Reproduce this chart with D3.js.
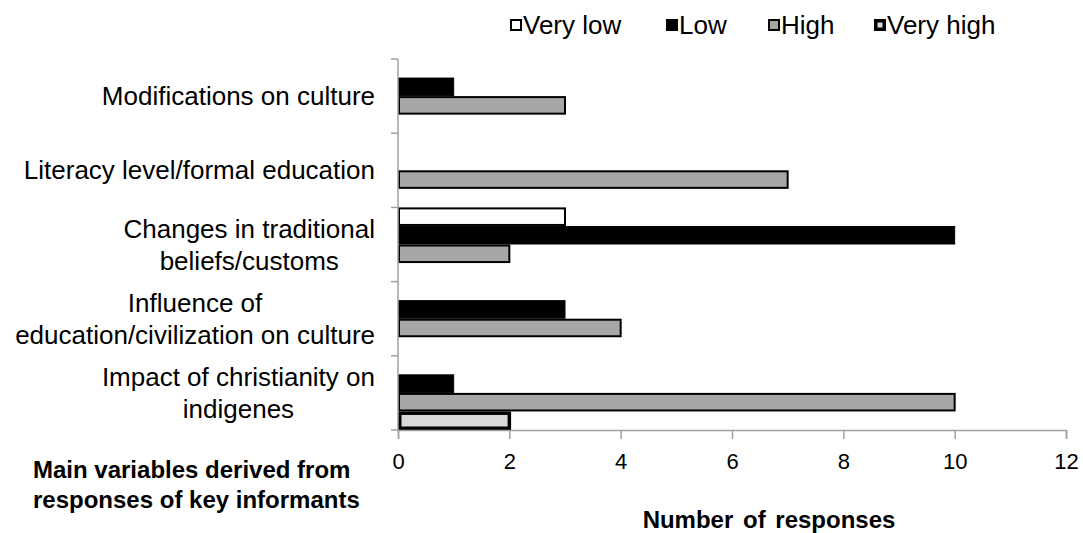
<!DOCTYPE html>
<html>
<head>
<meta charset="utf-8">
<script src="https://cdn.jsdelivr.net/npm/d3@7"></script>
<style>
  html, body { margin: 0; padding: 0; background: #fff; }
  svg { display: block; }
</style>
</head>
<body>
<svg id="chart" width="1083" height="533"></svg>
<script>
// Categories, top to bottom
const categories = [
  ["Modifications on culture"],
  ["Literacy level/formal education"],
  ["Changes in traditional", "beliefs/customs"],
  ["Influence of", "education/civilization on culture"],
  ["Impact of christianity on", "indigenes"]
];
const seriesNames = ["Very low", "Low", "High", "Very high"];

// Number of responses per category, one array per rating
const veryLow  = [0, 0, 3, 0, 0];
const low      = [1, 0, 10, 3, 1];
const high     = [3, 7, 2, 4, 10];
const veryHigh = [0, 0, 0, 0, 2];

const xTicks = [0, 2, 4, 6, 8, 10, 12];

const seriesValues = [veryLow, low, high, veryHigh];
const styles = [
  { fill: "#ffffff", stroke: "#000", sw: 2 },
  { fill: "#000000", stroke: "#000", sw: 1 },
  { fill: "#a6a6a6", stroke: "#000", sw: 2 },
  { fill: "#d9d9d9", stroke: "#000", sw: 3.5 }
];

const svg = d3.select("#chart");
const margin = { left: 398, right: 17, top: 59, bottom: 103 };
const W = 1083, H = 533;
const font = "'Liberation Sans', Arial, sans-serif";

const x = d3.scaleLinear().domain([0, 12]).range([margin.left, W - margin.right]);
const catIdx = categories.map((d, i) => i);
const y = d3.scaleBand().domain(catIdx).range([margin.top, H - margin.bottom]).padding(0);
const ySub = d3.scaleBand().domain(seriesNames).range([0, y.bandwidth()]).padding(0);

// Bars
const g = svg.append("g");
seriesNames.forEach((name, s) => {
  const st = styles[s];
  g.selectAll(null)
    .data(catIdx.filter(i => seriesValues[s][i] > 0))
    .enter().append("rect")
    .attr("x", x(0) + st.sw / 2)
    .attr("y", i => y(i) + ySub(name) + st.sw / 2)
    .attr("width", i => x(seriesValues[s][i]) - x(0) - st.sw / 2)
    .attr("height", ySub.bandwidth() - st.sw)
    .attr("fill", st.fill)
    .attr("stroke", st.stroke)
    .attr("stroke-width", st.sw);
});

// Y axis line with ticks at band boundaries
const axisColor = "#a0a0a0";
svg.append("line")
  .attr("x1", x(0)).attr("x2", x(0))
  .attr("y1", margin.top).attr("y2", H - margin.bottom)
  .attr("stroke", axisColor).attr("stroke-width", 1.5);
const bounds = catIdx.map(i => y(i)).concat([H - margin.bottom]);
svg.selectAll(null).data(bounds).enter().append("line")
  .attr("x1", x(0) - 7).attr("x2", x(0))
  .attr("y1", d => d).attr("y2", d => d)
  .attr("stroke", axisColor).attr("stroke-width", 1.5);

// X axis
const xAxis = svg.append("g")
  .attr("transform", `translate(0,${H - margin.bottom})`)
  .call(d3.axisBottom(x).tickValues(xTicks).tickSize(9).tickPadding(14).tickFormat(d3.format("d")));
xAxis.select(".domain").attr("stroke", axisColor).attr("stroke-width", 1.5);
xAxis.selectAll(".tick line").attr("stroke", axisColor).attr("stroke-width", 1.5);
xAxis.selectAll(".tick text")
  .attr("font-family", font).attr("font-size", 22).attr("fill", "#000");

// Category labels (each block centred, right-aligned against the axis)
const labelG = svg.append("g");
categories.forEach((lines, i) => {
  const lh = 32;
  const cy = y(i) + y.bandwidth() / 2;
  const t = labelG.append("text")
    .attr("font-family", font).attr("font-size", 26).attr("fill", "#000")
    .attr("text-anchor", "middle");
  const tspans = lines.map((ln, k) => t.append("tspan")
    .attr("y", cy + (k - (lines.length - 1) / 2) * lh + 9)
    .text(ln));
  const widest = d3.max(tspans, ts => ts.node().getComputedTextLength());
  tspans.forEach(ts => ts.attr("x", 375 - widest / 2));
});

// Legend
const legendX = [510, 666, 768, 874];
const lg = svg.append("g");
seriesNames.forEach((name, s) => {
  const st = styles[s];
  const sz = 12;
  lg.append("rect")
    .attr("x", legendX[s] + st.sw / 2).attr("y", 19 + st.sw / 2)
    .attr("width", sz - st.sw).attr("height", sz - st.sw)
    .attr("fill", st.fill).attr("stroke", "#000").attr("stroke-width", st.sw);
  lg.append("text")
    .attr("x", legendX[s] + 13).attr("y", 34)
    .attr("font-family", font).attr("font-size", 26).attr("fill", "#000")
    .text(name);
});

// Axis titles
svg.append("text")
  .attr("x", 769).attr("y", 528)
  .attr("text-anchor", "middle")
  .attr("font-family", font).attr("font-size", 24).attr("font-weight", "bold")
  .attr("word-spacing", 3)
  .text("Number of responses");
const yt = svg.append("text")
  .attr("font-family", font).attr("font-size", 24).attr("font-weight", "bold");
yt.append("tspan").attr("x", 33).attr("y", 478).text("Main variables derived from");
yt.append("tspan").attr("x", 33).attr("y", 508).text("responses of key informants");
</script>
</body>
</html>
